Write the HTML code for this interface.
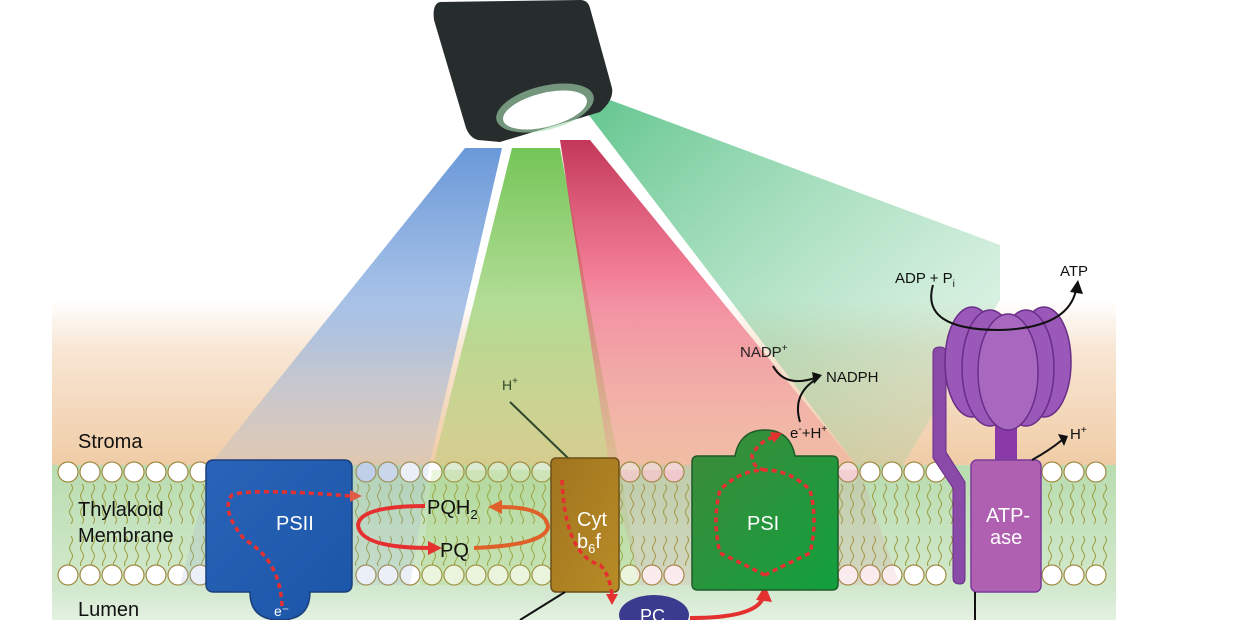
<!DOCTYPE html><html><head><style>body{margin:0;background:#fff}svg{display:block}text{font-family:"Liberation Sans",sans-serif}</style></head><body>
<svg width="1240" height="620" viewBox="0 0 1240 620" xmlns="http://www.w3.org/2000/svg">
<defs>
<linearGradient id="bg" x1="0" y1="0" x2="0" y2="1"><stop offset="0" stop-color="#fff"/><stop offset=".3" stop-color="#f8e6d4"/><stop offset="1" stop-color="#f0cca6"/></linearGradient>
<linearGradient id="mem" x1="0" y1="0" x2="0" y2="1"><stop offset="0" stop-color="#b9dcb0"/><stop offset="1" stop-color="#d2e9cc"/></linearGradient>
<linearGradient id="lum" x1="0" y1="0" x2="0" y2="1"><stop offset="0" stop-color="#cfe7cc"/><stop offset="1" stop-color="#e4f1e1"/></linearGradient>
<linearGradient id="gb" x1="0" y1="0" x2="0" y2="1"><stop offset="0" stop-color="#4f86d2"/><stop offset=".6" stop-color="#7fa6dc" stop-opacity=".7"/><stop offset="1" stop-color="#a8b8d0" stop-opacity=".3"/></linearGradient>
<linearGradient id="gg" x1="0" y1="0" x2="0" y2="1"><stop offset="0" stop-color="#5bbb3a"/><stop offset="1" stop-color="#9ccd5a" stop-opacity=".35"/></linearGradient>
<linearGradient id="gr" x1="0" y1="0" x2="0" y2="1"><stop offset="0" stop-color="#b8143c"/><stop offset=".4" stop-color="#ec4a6c" stop-opacity=".85"/><stop offset="1" stop-color="#f09a9a" stop-opacity=".35"/></linearGradient>
<linearGradient id="gt" x1="0" y1="0" x2="1" y2="1"><stop offset="0" stop-color="#2fb36a"/><stop offset="1" stop-color="#8fd4a6" stop-opacity=".2"/></linearGradient>
<linearGradient id="psii" x1="0" y1="0" x2="1" y2="1"><stop offset="0" stop-color="#2a64b8"/><stop offset="1" stop-color="#1a55a8"/></linearGradient>
<linearGradient id="psi" x1="0" y1="0" x2="1" y2="1"><stop offset="0" stop-color="#3e8a3a"/><stop offset="1" stop-color="#12a03e"/></linearGradient>
<linearGradient id="cyt" x1="0" y1="0" x2="1" y2="1"><stop offset="0" stop-color="#a0741e"/><stop offset="1" stop-color="#b88c26"/></linearGradient>
<pattern id="tails" width="11" height="100" patternUnits="userSpaceOnUse" x="68" y="484">
<path d="M3 0 q3 4 0 8 q-3 4 0 8 q3 4 0 8 q-3 4 0 8 q3 4 0 8 M3 52 q3 4 0 8 q-3 4 0 8 q3 4 0 8 q-3 4 0 8 q3 4 0 8" fill="none" stroke="#9a9a3a" stroke-width="1"/>
</pattern>
</defs>
<rect x="52" y="300" width="1064" height="165" fill="url(#bg)"/>
<rect x="52" y="465" width="1064" height="120" fill="url(#mem)"/>
<rect x="52" y="585" width="1064" height="35" fill="url(#lum)"/>
<!-- beams -->
<polygon points="465,148 502,148 430,462 212,462" fill="url(#gb)" opacity=".85"/>
<polygon points="512,148 560,148 620,470 432,470" fill="url(#gg)" opacity=".85"/>
<polygon points="560,140 590,140 860,470 610,470" fill="url(#gr)" opacity=".85"/>
<polygon points="585,110 610,100 1000,245 1000,300 900,470 860,470" fill="url(#gt)" opacity=".75"/>
<!-- lamp -->
<path d="M440 2 L580 0 Q588 0 590 8 L612 88 Q614 100 600 112 L500 142 L478 140 Q470 138 466 128 L434 20 Q432 4 440 2Z" fill="#262d2c"/>
<ellipse cx="545" cy="108" rx="50" ry="22" transform="rotate(-14 545 108)" fill="#a8dcb4" opacity=".6"/>
<ellipse cx="545" cy="110" rx="43" ry="17" transform="rotate(-14 545 110)" fill="#fff"/>
<!-- tails & heads -->
<rect x="62" y="482" width="1050" height="84" fill="url(#tails)"/>
<g fill="#fff" stroke="#a08a40" stroke-width="1.2">
<circle cx="68" cy="472" r="10"/><circle cx="90" cy="472" r="10"/><circle cx="112" cy="472" r="10"/><circle cx="134" cy="472" r="10"/><circle cx="156" cy="472" r="10"/><circle cx="178" cy="472" r="10"/><circle cx="200" cy="472" r="10"/>
<circle cx="366" cy="472" r="10" fill="#c8d6ee"/><circle cx="388" cy="472" r="10" fill="#d6e0ee"/><circle cx="410" cy="472" r="10"/><circle cx="432" cy="472" r="10"/><circle cx="454" cy="472" r="10" fill="#dbead0"/><circle cx="476" cy="472" r="10" fill="#dbead0"/><circle cx="498" cy="472" r="10" fill="#d5e8c8"/><circle cx="520" cy="472" r="10" fill="#d5e8c8"/><circle cx="542" cy="472" r="10" fill="#dbead0"/>
<circle cx="630" cy="472" r="10" fill="#eedbd0"/><circle cx="652" cy="472" r="10" fill="#eed6d0"/><circle cx="674" cy="472" r="10" fill="#f2d6d6"/>
<circle cx="848" cy="472" r="10" fill="#f5dede"/><circle cx="870" cy="472" r="10"/><circle cx="892" cy="472" r="10"/><circle cx="914" cy="472" r="10"/><circle cx="936" cy="472" r="10"/>
<circle cx="1052" cy="472" r="10"/><circle cx="1074" cy="472" r="10"/><circle cx="1096" cy="472" r="10"/>
</g>
<g fill="#fff" stroke="#a08a40" stroke-width="1.2">
<circle cx="68" cy="575" r="10"/><circle cx="90" cy="575" r="10"/><circle cx="112" cy="575" r="10"/><circle cx="134" cy="575" r="10"/><circle cx="156" cy="575" r="10"/><circle cx="178" cy="575" r="10"/><circle cx="200" cy="575" r="10"/>
<circle cx="366" cy="575" r="10"/><circle cx="388" cy="575" r="10"/><circle cx="410" cy="575" r="10"/><circle cx="432" cy="575" r="10"/><circle cx="454" cy="575" r="10"/><circle cx="476" cy="575" r="10"/><circle cx="498" cy="575" r="10"/><circle cx="520" cy="575" r="10"/><circle cx="542" cy="575" r="10"/>
<circle cx="630" cy="575" r="10"/><circle cx="652" cy="575" r="10"/><circle cx="674" cy="575" r="10"/>
<circle cx="848" cy="575" r="10"/><circle cx="870" cy="575" r="10"/><circle cx="892" cy="575" r="10"/><circle cx="914" cy="575" r="10"/><circle cx="936" cy="575" r="10"/>
<circle cx="1052" cy="575" r="10"/><circle cx="1074" cy="575" r="10"/><circle cx="1096" cy="575" r="10"/>
</g>
<!-- faint beam continuation through membrane -->
<polygon points="212,462 430,462 410,585 180,585" fill="#9ab0d8" opacity=".2"/>
<polygon points="432,470 620,470 640,585 420,585" fill="#9ccd5a" opacity=".2"/>
<polygon points="610,470 860,470 900,585 640,585" fill="#e07a8a" opacity=".15"/>
<!-- labels -->
<g font-size="20" fill="#111">
<text x="78" y="448">Stroma</text><text x="78" y="516">Thylakoid</text><text x="78" y="542">Membrane</text><text x="78" y="616">Lumen</text>
</g>
<!-- PSII -->
<path d="M214 460 H344 Q352 460 352 468 V584 Q352 592 344 592 H310 Q310 620 280 620 Q250 620 250 592 H214 Q206 592 206 584 V468 Q206 460 214 460Z" fill="url(#psii)" stroke="#1a3f7a" stroke-width="1.5"/>
<text x="276" y="530" font-size="20" fill="#fff">PSII</text>
<text x="274" y="616" font-size="14" fill="#fff">e⁻</text>
<path d="M282 606 Q280 560 245 540 Q220 510 232 495 Q250 488 350 496" fill="none" stroke="#e53030" stroke-width="3.5" stroke-dasharray="5 4"/>
<polygon points="350,490 362,496 350,502" fill="#e05a4a"/>
<!-- PQ cycle -->
<path d="M425 506 Q360 506 358 525 Q360 548 430 548" fill="none" stroke="#e63030" stroke-width="4"/>
<polygon points="428,541 442,548 428,555" fill="#e63030"/>
<path d="M474 548 Q545 545 548 527 Q546 507 500 507" fill="none" stroke="#e0602a" stroke-width="4"/>
<polygon points="502,500 488,507 502,514" fill="#e0602a"/>
<text x="427" y="514" font-size="20" fill="#111">PQH<tspan font-size="13" dy="5">2</tspan></text>
<text x="440" y="557" font-size="20" fill="#111">PQ</text>
<!-- Cyt -->
<line x1="510" y1="402" x2="570" y2="460" stroke="#2d4a2a" stroke-width="2"/>
<text x="502" y="390" font-size="14" fill="#2d4a2a">H<tspan font-size="10" dy="-6">+</tspan></text>
<rect x="551" y="458" width="68" height="134" rx="5" fill="url(#cyt)" stroke="#6e4f18" stroke-width="1.5"/>
<path d="M562 480 Q565 555 600 565 Q610 575 612 596" fill="none" stroke="#e53030" stroke-width="3.5" stroke-dasharray="5 4"/>
<polygon points="606,594 618,594 612,605" fill="#e53030"/>
<text x="577" y="526" font-size="20" fill="#fff">Cyt</text><text x="577" y="548" font-size="20" fill="#fff">b<tspan font-size="13" dy="5">6</tspan><tspan dy="-5">f</tspan></text>
<line x1="565" y1="592" x2="520" y2="620" stroke="#111" stroke-width="2"/>
<!-- PC -->
<ellipse cx="654" cy="615" rx="35" ry="20" fill="#3a3a8e"/>
<text x="640" y="622" font-size="18" fill="#fff">PC</text>
<path d="M690 618 Q755 618 763 598" fill="none" stroke="#e53030" stroke-width="4"/>
<polygon points="756,600 765,585 772,602" fill="#e53030"/>
<!-- PSI -->
<path d="M698 456 H735 Q740 430 765 430 Q790 430 795 456 H832 Q838 456 838 462 V584 Q838 590 832 590 H698 Q692 590 692 584 V462 Q692 456 698 456Z" fill="url(#psi)" stroke="#1e5a2a" stroke-width="1.5"/>
<text x="747" y="530" font-size="20" fill="#fff">PSI</text>
<path d="M765 575 Q745 565 720 553 Q712 520 720 490 Q740 470 765 470 Q790 470 810 490 Q818 520 810 553 Q785 565 765 575" fill="none" stroke="#e53030" stroke-width="3.5" stroke-dasharray="5 4"/>
<path d="M765 470 Q752 468 752 455 Q760 440 775 437" fill="none" stroke="#e53030" stroke-width="3.5" stroke-dasharray="5 4"/>
<polygon points="770,432 782,433 774,443" fill="#e53030"/>
<text x="790" y="438" font-size="15" fill="#111">e<tspan font-size="10" dy="-6">-</tspan><tspan dy="6">+H</tspan><tspan font-size="10" dy="-6">+</tspan></text>
<path d="M800 422 Q792 395 815 380" fill="none" stroke="#111" stroke-width="2"/>
<path d="M773 366 Q785 388 815 378" fill="none" stroke="#111" stroke-width="2"/>
<polygon points="812,372 822,375 814,384" fill="#111"/>
<text x="740" y="357" font-size="15" fill="#222">NADP<tspan font-size="10" dy="-6">+</tspan></text>
<text x="826" y="382" font-size="15" fill="#111">NADPH</text>
<!-- ATPase -->
<path d="M940 347 Q946 347 946 353 V452 L965 482 V578 Q965 584 960 584 Q953 584 953 578 V488 L933 458 V353 Q933 347 940 347Z" fill="#8a4aa8" stroke="#6a2e8a"/>
<rect x="995" y="420" width="22" height="50" fill="#8a3aa8"/>
<g fill="#9a58b8" stroke="#6a2e8a" stroke-width="1.5">
<ellipse cx="972" cy="362" rx="27" ry="55"/><ellipse cx="1044" cy="362" rx="27" ry="55"/>
<ellipse cx="990" cy="368" rx="28" ry="58"/><ellipse cx="1026" cy="368" rx="28" ry="58"/>
<ellipse cx="1008" cy="372" rx="30" ry="58" fill="#a868c0"/>
</g>
<rect x="971" y="460" width="70" height="132" rx="6" fill="#b060b0" stroke="#7a3a9a" stroke-width="1.5"/>
<text x="986" y="522" font-size="20" fill="#fff">ATP-</text><text x="990" y="544" font-size="20" fill="#fff">ase</text>
<line x1="975" y1="592" x2="975" y2="620" stroke="#111" stroke-width="2"/>
<path d="M1032 460 Q1050 450 1062 440" fill="none" stroke="#111" stroke-width="2"/>
<polygon points="1058,434 1068,436 1064,446" fill="#111"/>
<text x="1070" y="439" font-size="15" fill="#111">H<tspan font-size="10" dy="-6">+</tspan></text>
<path d="M933 285 Q920 330 1000 330 Q1068 328 1076 290" fill="none" stroke="#111" stroke-width="2"/>
<polygon points="1070,292 1078,280 1083,294" fill="#111"/>
<text x="895" y="283" font-size="15" fill="#111">ADP + P<tspan font-size="10" dy="4">i</tspan></text>
<text x="1060" y="276" font-size="15" fill="#111">ATP</text>
</svg>
</body></html>
